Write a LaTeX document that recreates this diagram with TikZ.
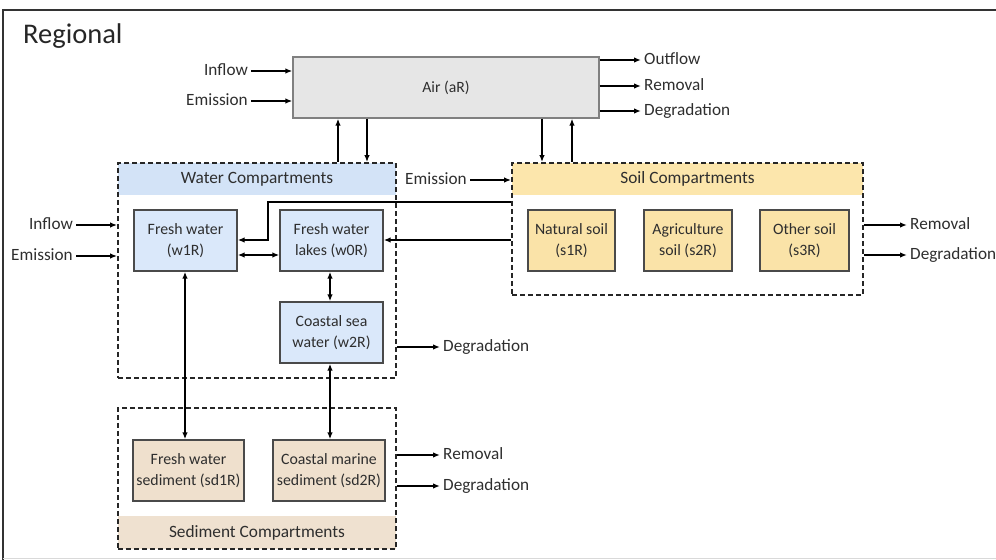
\documentclass[tikz,border=0pt]{standalone}
\usepackage{fontspec}
\setmainfont{Carlito}
\usetikzlibrary{arrows.meta}
\definecolor{txt}{HTML}{2E2E2E}
\definecolor{boxline}{HTML}{4A4A4A}
\definecolor{airfill}{HTML}{E6E6E6}
\definecolor{airline}{HTML}{808080}
\definecolor{waterhead}{HTML}{D3E3F7}
\definecolor{waterbox}{HTML}{DAE8FA}
\definecolor{soilhead}{HTML}{FCE6AC}
\definecolor{soilbox}{HTML}{FAE3A8}
\definecolor{sedhead}{HTML}{EFE1D0}
\definecolor{sedbox}{HTML}{EFE0CD}
\tikzset{
  box/.style={draw=boxline,line width=1.4bp,minimum height=61bp,inner sep=1bp,align=center,
    text=txt,font=\fontsize{15.8bp}{21.5bp}\selectfont},
  grp/.style={draw=black!85,line width=1.8bp,dash pattern=on 5bp off 3bp,inner sep=0pt},
  head/.style={inner sep=0pt,text=txt,font=\fontsize{17.3bp}{20bp}\selectfont,minimum height=32bp},
  lbl/.style={inner sep=3bp,text=txt,font=\fontsize{17.2bp}{20bp}\selectfont,text height=11bp,text depth=2bp},
  flow/.style={line width=1.8bp,-{Latex[length=7bp,width=5.5bp]}},
  both/.style={line width=1.8bp,{Latex[length=7bp,width=5.5bp]}-{Latex[length=7bp,width=5.5bp]}},
}
\begin{document}
\begin{tikzpicture}[x=1bp,y=-1bp]
\useasboundingbox (0,0) rectangle (996,560);
% outer frame
\draw[line width=2.5bp,black!80] (3,560) -- (3,10) -- (996,10);
\draw[line width=1bp,black!15] (3,558) -- (996,558);
\node[anchor=west,inner sep=0pt,text=black!85,font=\fontsize{28.5bp}{32bp}\selectfont] (title) at (23,36) {Regional};

% air
\node[draw=airline,fill=airfill,line width=1.3bp,minimum width=306bp,minimum height=61bp,
  text=txt,font=\fontsize{15.7bp}{19bp}\selectfont] (air) at (446,87.5) {Air (aR)};

% headers (drawn before dashed borders)
\node[head,fill=waterhead,minimum width=278bp] (waterhd) at (257,179) {Water Compartments};
\node[head,fill=soilhead,minimum width=351bp] (soilhd) at (687.5,179) {Soil Compartments};
\node[head,fill=sedhead,minimum width=278bp,minimum height=33bp] (sedhd) at (257,532.5) {Sediment Compartments};

% group borders
\node[grp,minimum width=278bp,minimum height=215bp] (water) at (257,270.5) {};
\node[grp,minimum width=351bp,minimum height=132bp] (soil) at (687.5,229) {};
\node[grp,minimum width=278bp,minimum height=141bp] (sed) at (257,478.5) {};

% water boxes
\node[box,fill=waterbox,minimum width=103bp] (w1) at (185.5,240.5) {Fresh water\\(w1R)};
\node[box,fill=waterbox,minimum width=103bp] (w0) at (331.5,240.5) {Fresh water\\lakes (w0R)};
\node[box,fill=waterbox,minimum width=103bp] (w2) at (331.5,332.5) {Coastal sea\\water (w2R)};

% soil boxes
\node[box,fill=soilbox,minimum width=87bp] (s1) at (571.5,240.5) {Natural soil\\(s1R)};
\node[box,fill=soilbox,minimum width=88bp] (s2) at (688,240.5) {Agriculture\\soil (s2R)};
\node[box,fill=soilbox,minimum width=89bp] (s3) at (804.5,240.5) {Other soil\\(s3R)};

% sediment boxes
\node[box,fill=sedbox,minimum width=111bp] (sd1) at (188.5,470.5) {Fresh water\\sediment (sd1R)};
\node[box,fill=sedbox,minimum width=112bp] (sd2) at (329,470.5) {Coastal marine\\sediment (sd2R)};

% helper coordinates
\coordinate (xa) at (338,0);
\coordinate (xb) at (367,0);
\coordinate (xc) at (542,0);
\coordinate (xd) at (572,0);
\coordinate (xw1) at (185,0);
\coordinate (xw2) at (330,0);
\coordinate (bend) at (268,202);
\coordinate (y202) at (0,202);
\coordinate (y240) at (0,240);
\coordinate (y255) at (0,255);

% air inputs
\node[lbl,anchor=east] (inA) at (251,71) {Inflow};
\node[lbl,anchor=east] (emA) at (251,101) {Emission};
\draw[flow] (inA.east) -- (inA.east -| air.west);
\draw[flow] (emA.east) -- (emA.east -| air.west);
% air outputs
\node[lbl,anchor=west] (outA) at (641,60) {Outflow};
\node[lbl,anchor=west] (remA) at (641,86) {Removal};
\node[lbl,anchor=west] (degA) at (641,111) {Degradation};
\draw[flow] (outA.west -| air.east) -- (outA.west);
\draw[flow] (remA.west -| air.east) -- (remA.west);
\draw[flow] (degA.west -| air.east) -- (degA.west);

% air <-> water / soil
\draw[flow] (water.north -| xa) -- (air.south -| xa);
\draw[flow] (air.south -| xb) -- (water.north -| xb);
\draw[flow] (air.south -| xc) -- (soil.north -| xc);
\draw[flow] (soil.north -| xd) -- (air.south -| xd);

% soil emission
\node[lbl,anchor=east] (emS) at (470,180) {Emission};
\draw[flow] (emS.east) -- (emS.east -| soil.west);

% soil -> water
\draw[flow] (soil.west |- y202) -- (bend) -- (bend |- y240) -- (w1.east |- y240);
\draw[flow] (soil.west |- y240) -- (w0.east |- y240);

% within water
\draw[both] (w1.east |- y255) -- (w0.west |- y255);
\draw[both] (w0.south -| xw2) -- (w2.north -| xw2);

% water <-> sediment
\draw[both] (w1.south -| xw1) -- (sd1.north -| xw1);
\draw[both] (w2.south -| xw2) -- (sd2.north -| xw2);

% water inputs
\node[lbl,anchor=east] (inW) at (76,225) {Inflow};
\node[lbl,anchor=east] (emW) at (76,256) {Emission};
\draw[flow] (inW.east) -- (inW.east -| water.west);
\draw[flow] (emW.east) -- (emW.east -| water.west);
% water output
\node[lbl,anchor=west] (degW) at (440,347) {Degradation};
\draw[flow] (degW.west -| water.east) -- (degW.west);

% soil outputs
\node[lbl,anchor=west] (remS) at (907,225) {Removal};
\node[lbl,anchor=west] (degS) at (907,255) {Degradation};
\draw[flow] (remS.west -| soil.east) -- (remS.west);
\draw[flow] (degS.west -| soil.east) -- (degS.west);

% sediment outputs
\node[lbl,anchor=west] (remD) at (440,455) {Removal};
\node[lbl,anchor=west] (degD) at (440,486) {Degradation};
\draw[flow] (remD.west -| sed.east) -- (remD.west);
\draw[flow] (degD.west -| sed.east) -- (degD.west);
\end{tikzpicture}
\end{document}
